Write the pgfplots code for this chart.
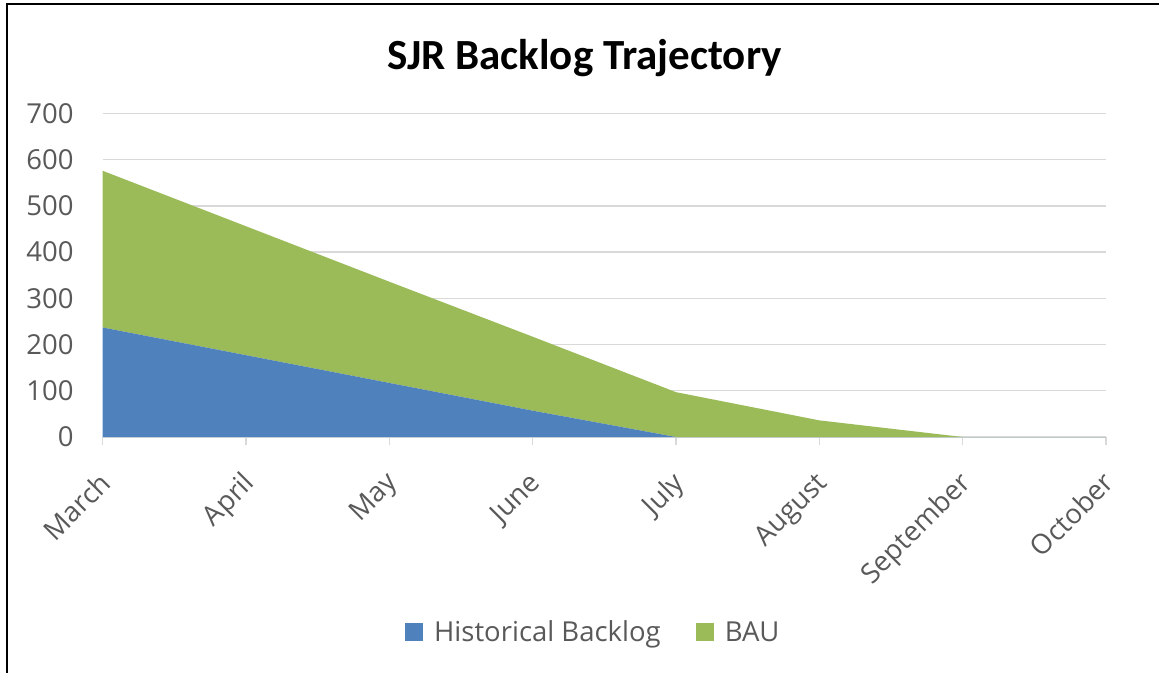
\documentclass[border=0pt]{standalone}
\usepackage{pgfplots}
\pgfplotsset{compat=1.18}
\usepackage{fontspec}
\setmainfont{Open Sans}
\newfontfamily\titlefont{Carlito}
\definecolor{histblue}{HTML}{4F81BD}
\definecolor{baugreen}{HTML}{9BBB59}
\definecolor{txtgray}{HTML}{595959}
\definecolor{gridgray}{HTML}{D9D9D9}
\begin{document}
\begin{tikzpicture}[x=1pt,y=1pt]
\path[use as bounding box] (0,0) rectangle (1159,673);
\draw[black,line width=2pt] (6.5,0) -- (6.5,668.5) -- (1159,668.5);
\node[anchor=base,font=\titlefont\bfseries\fontsize{43}{50}\selectfont] at (584.5,603) {SJR Backlog Trajectory};
\begin{axis}[
  at={(102.7pt,236pt)}, anchor=south west,
  scale only axis, width=1003.3pt, height=323.5pt,
  xmin=0, xmax=7, ymin=0, ymax=700,
  stack plots=y,
  axis x line*=bottom, axis y line*=left,
  x axis line style={gridgray,line width=1.5pt,-},
  y axis line style={draw=none},
  xtick={0,...,7},
  xticklabels={March,April,May,June,July,August,September,October},
  ytick={0,100,...,700},
  ymajorgrids, major grid style={gridgray,line width=1.3pt},
  x tick style={gridgray,line width=1.5pt},
  tick align=outside, major tick length=8pt,
  y tick style={draw=none},
  xticklabel style={xshift=-5pt,yshift=-25pt,rotate=45,anchor=north east,inner sep=0pt,font=\fontsize{27.5}{32}\selectfont,text=txtgray},
  yticklabel style={anchor=east,inner sep=0pt,xshift=-21pt,font=\fontsize{27.5}{32}\selectfont,text=txtgray},
  /pgf/number format/assume math mode=true,
  legend style={at={(0.489,-0.603)},anchor=center,draw=none,fill=none,
     legend columns=-1,font=\fontsize{27.5}{32}\selectfont,text=txtgray,
     /tikz/every odd column/.append style={column sep=9pt},
     /tikz/every even column/.append style={column sep=33pt}},
  legend image code/.code={\path[#1,draw=none] (0pt,-9pt) rectangle (18pt,9pt);},
  legend cell align=left,
]
\addplot[fill=histblue,draw=none] coordinates {(0,237) (1,177) (2,117) (3,57) (4,0) (5,0) (6,0) (7,0)} \closedcycle;
\addlegendentry{Historical Backlog}
\addplot[fill=baugreen,draw=none] coordinates {(0,339) (1,279) (2,219) (3,160) (4,97) (5,36) (6,0) (7,0)} \closedcycle;
\addlegendentry{BAU}
\end{axis}
\end{tikzpicture}
\end{document}
